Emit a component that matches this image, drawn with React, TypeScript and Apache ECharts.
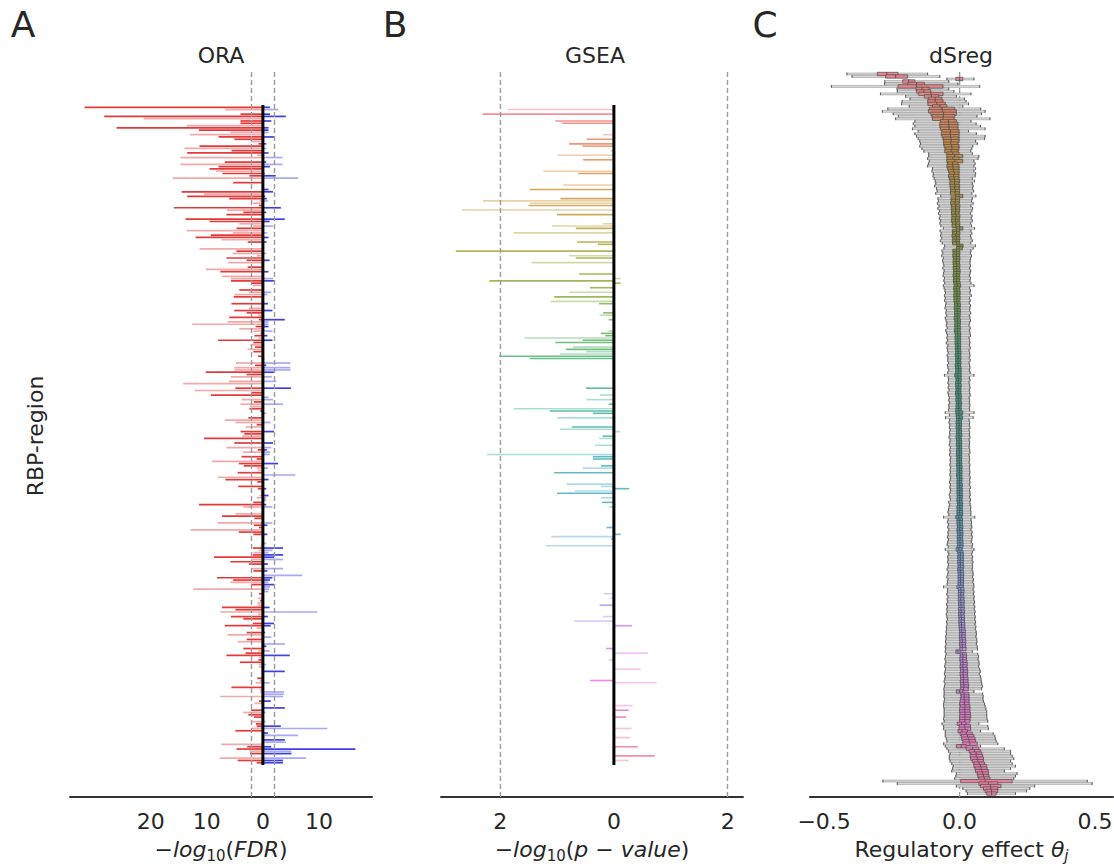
import React, { useEffect, useRef } from "react";
import * as echarts from "echarts";

const ROW_COUNT = 290;

// ORA records: [row, -log10(FDR) depleted (drawn left), -log10(FDR) enriched (drawn right), region group]
const oraRows: number[][] = [
  [1,31.8,1.25,0],[2,6.7,2.7,1],[4,4.0,1.25,0],[5,28.3,4.1,0],[6,21.3,0,1],[7,4.0,1.5,0],[8,4.0,0,0],[9,13.6,0,1],
  [10,26.1,1.0,0],[11,11.4,1.0,0],[12,5.8,1.0,1],[13,13.0,0,1],[14,7.9,2.0,0],[15,5.1,0,0],[16,2.2,0,1],[17,0.8,0.6,0],
  [18,11.3,0,0],[19,14.0,0.6,1],[20,5.6,0,0],[21,13.5,1.0,0],[22,1.0,0,1],[23,14.7,3.5,1],[25,6.8,0.6,0],[26,14.7,3.5,1],
  [27,7.9,1.25,0],[28,9.5,0,0],[29,8.4,0,1],[30,7.2,0.3,0],[31,2.4,2.3,0],[32,16.1,6.3,1],[34,5.3,0,0],[37,0,1.0,0],
  [38,14.5,1.8,0],[39,10.5,0,1],[40,13.5,0.4,0],[41,6.0,0.7,0],[42,0.6,0.9,1],[43,1.8,0,1],[44,0.7,0,0],[45,15.9,3.2,0],
  [46,6.4,0,1],[47,3.5,0.6,0],[48,6.5,0,0],[50,13.8,3.9,0],[51,9.5,1.2,0],[52,4.2,0,1],[53,1.8,1.8,1],[54,4.7,0,0],
  [55,13.6,0,1],[56,5.4,0.8,1],[57,9.3,0,0],[58,12.0,1.0,0],[59,7.4,0,1],[60,2.7,0.65,0],[63,11.3,0,1],[64,4.7,0,0],
  [65,5.4,0.6,1],[66,1.1,0,1],[67,6.5,0,0],[68,2.9,1.2,0],[69,6.25,0,1],[71,2.7,0,0],[72,10.2,0,1],[73,7.6,1.0,0],
  [74,0.2,0,0],[75,7.3,0,1],[76,5.7,1.8,1],[77,5.7,2.0,0],[78,2.0,0,0],[79,1.8,0,1],[81,4.2,0,0],[82,2.5,1.5,1],
  [83,5.1,0.8,1],[84,5.2,0,0],[86,0.4,0,1],[87,5.6,0.9,0],[88,0.4,0,1],[89,2.5,0,1],[90,5.1,1.7,0],[91,2.9,0,0],
  [92,0.8,0,1],[93,6.0,0,0],[94,0.7,3.9,0],[95,6.3,1.0,1],[96,12.6,1.0,1],[97,1.3,1.0,0],[98,4.2,0,1],[99,1.7,1.7,1],
  [100,0.4,0,0],[101,1.5,0.8,0],[102,0.8,0,1],[103,8.0,1.7,0],[104,1.7,0,0],[105,2.2,0,1],[106,1.4,0,0],[107,2.7,0,1],
  [108,1.7,0,0],[110,0.9,0,0],[111,0,0.3,1],[113,4.8,4.9,1],[114,1.4,0.6,0],[115,5.1,4.9,1],[116,5.1,4.9,1],[117,10.2,2.0,0],
  [118,2.9,0,0],[119,5.7,1.6,1],[121,6.1,2.4,1],[122,14.2,0,1],[124,4.9,5.0,0],[125,12.2,0,1],[126,2.1,0,0],[127,9.3,0,0],
  [128,0.2,1.0,1],[129,3.8,1.8,1],[130,1.6,0,0],[131,4.0,3.6,1],[132,2.3,0,1],[133,2.4,0,0],[134,0.5,0,0],[135,0,0.6,1],
  [137,2.6,0,0],[138,6.8,0,1],[139,4.9,1.4,1],[140,1.1,0,0],[141,3.1,0,1],[143,4.0,2.0,0],[144,3.3,0,0],[145,3.7,0,1],
  [146,10.5,0,0],[148,5.1,1.8,0],[150,6.5,1.5,1],[151,0.9,0.7,0],[152,3.6,1.25,1],[153,0,1.25,1],[154,3.8,0,0],[155,1.1,0,0],
  [156,9.1,0,1],[157,4.3,2.7,0],[158,3.4,0,0],[159,1.1,0.9,1],[160,0.9,0,1],[161,4.5,0,0],[162,0,5.8,1],[163,8.1,0,1],
  [164,6.7,1.0,0],[165,1.0,0,0],[167,4.4,0,0],[168,0.9,0.6,0],[169,0.4,0,1],[170,0.4,0,1],[171,0.4,1.0,0],[172,1.1,0.6,1],
  [173,0,0.6,1],[174,1.7,0,0],[175,11.4,0.6,0],[176,3.5,1.7,1],[179,4.9,0,1],[180,7.3,0,0],[181,1.5,0,0],[183,8.1,1.7,1],
  [184,1.6,0.8,0],[185,0.7,0,0],[186,12.9,0,1],[187,4.3,0,0],[188,1.7,0.8,0],[192,0,0.6,1],[193,0.4,0,1],[194,1.8,3.6,0],
  [195,0.7,1.7,1],[196,1.7,1.0,1],[197,1.8,3.6,0],[198,8.7,2.0,0],[199,2.1,3.6,1],[200,5.8,0,0],[201,2.5,0.9,0],[203,2.1,3.6,1],
  [204,1.7,0.8,0],[206,0,7.0,1],[207,8.2,1.7,0],[208,5.3,1.25,0],[209,5.8,1.0,1],[210,2.1,2.0,0],[211,0,1.25,1],[212,12.4,1.1,1],
  [213,0,1.0,1],[214,0.7,0,0],[216,0.9,0,1],[217,0.5,0,0],[218,1.0,0,1],[219,0.9,0,1],[220,7.3,1.2,0],[221,4.9,0,0],
  [222,7.6,9.7,1],[223,0.9,0,1],[224,5.7,0.9,0],[225,3.5,0,0],[227,1.8,2.0,0],[228,6.8,1.4,0],[229,1.1,0,1],[231,2.9,0.4,0],
  [232,6.3,0,1],[233,0.4,1.5,1],[234,2.9,0,0],[235,4.5,0,1],[236,0,3.9,1],[237,0.2,0.6,0],[238,3.5,0,0],[239,0.8,1.2,1],
  [240,3.1,0,0],[241,6.5,4.8,0],[242,0.7,0,1],[243,0.8,0,0],[244,4.1,0,0],[245,0.7,0.6,1],[246,0.7,0.3,1],[248,0.2,3.9,0],
  [251,1.0,0,0],[252,0.6,0,1],[253,1.3,1.2,1],[255,5.6,0,0],[256,0.6,0,1],[257,0.5,3.75,1],[258,0,3.75,1],[259,7.6,3.6,1],
  [261,0.7,1.4,0],[262,1.5,0,1],[264,0,3.9,0],[265,2.1,0,0],[266,3.5,0.5,1],[267,2.6,0,0],[268,1.6,0,0],[270,1.9,0.5,1],
  [271,1.25,0,0],[272,1.1,3.2,0],[273,2.1,11.5,1],[274,4.9,0,0],[275,0,0.9,0],[276,0,6.3,1],[277,0,0.3,1],[278,0,3.9,0],
  [279,0,4.1,1],[280,7.4,0,1],[281,2.8,1.5,0],[282,4.7,16.5,0],[283,2.4,5.1,1],[284,2.3,5.1,0],[286,7.7,7.7,1],[287,4.5,3.6,0],
  [288,1.1,3.6,0]
];

// GSEA records: [row, signed -log10(p-value), region group]
const gseaRows: number[][] = [
  [2,-1.87,1],[4,-2.31,0],[7,-1.03,0],[8,-0.91,0],[13,-0.19,1],[15,-0.48,0],[17,-0.79,0],[18,-0.55,0],[20,-0.06,1],
  [22,-0.99,1],[24,-0.54,0],[29,-1.24,1],[30,-0.63,0],[35,-0.89,1],[37,-1.48,0],[41,-0.94,0],[42,-2.3,1],[43,-1.48,1],
  [44,-1.5,0],[46,-2.67,1],[48,-1.0,0],[52,-0.19,1],[53,-1.09,1],[54,-0.67,0],[56,-1.76,1],[60,-0.65,0],[61,-0.28,0],
  [64,-2.78,0],[66,-0.79,1],[67,-0.67,0],[69,-1.45,1],[74,-0.61,0],[76,0.12,1],[77,-2.19,0],[78,0.12,0],[80,-0.42,0],
  [82,-0.78,1],[84,-1.05,0],[86,-1.11,1],[87,-0.26,0],[91,-0.19,0],[92,-0.25,1],[94,-0.09,0],[99,-0.1,1],[100,-0.23,0],
  [101,-0.15,0],[102,-1.57,1],[103,-0.55,0],[104,-1.03,0],[106,-0.72,1],[107,-0.84,0],[108,-0.49,1],[109,-0.95,1],
  [110,-2.02,0],[111,-1.48,0],[124,-0.49,0],[127,-0.25,1],[129,-0.48,1],[131,-0.09,0],[133,-1.76,1],[134,-1.13,0],
  [135,-0.37,0],[137,-1.0,1],[141,-0.74,0],[142,-0.95,1],[143,0.11,1],[145,-0.2,0],[146,-0.26,1],[149,-0.33,1],
  [153,-2.23,1],[154,-0.37,0],[155,-0.37,0],[158,-0.23,0],[159,-0.55,1],[161,-1.05,0],[166,-0.83,1],[167,-0.23,1],
  [168,0.27,0],[169,-0.69,1],[170,-1.0,0],[172,-0.23,1],[174,-0.21,0],[175,0.03,0],[176,-0.09,1],[185,-0.13,0],
  [188,0.12,0],[189,-1.1,1],[190,-0.05,0],[193,-1.2,1],[214,-0.18,1],[216,-0.06,1],[219,-0.25,0],[224,-0.19,1],
  [226,-0.7,1],[228,0.32,0],[238,-0.14,0],[240,0.6,1],[243,-0.09,1],[247,0.47,1],[252,-0.42,0],[253,0.75,1],
  [263,0.33,1],[265,0.26,0],[267,0.03,1],[268,0.22,0],[273,0.31,1],[277,0.29,1],[281,0.42,0],[285,0.72,0],[287,0.26,1]
];

// dSreg posterior summaries per row, in thousandths of the regulatory effect
const dsregMedian = [
  -269,-236,0,-188,-159,-159,-139,-132,-106,-104,
  -90,-90,-85,-73,-65,-64,-59,-60,-61,-41,
  -40,-40,-39,-34,-35,-34,-32,-31,-33,-29,
  -28,-31,-25,-18,-25,-18,-26,-25,-24,-22,
  -20,-22,-20,-18,-19,-17,-18,-16,-17,-2,
  -16,-15,-17,-14,-15,-14,-16,-13,-14,-15,
  -13,-14,0,-13,-12,-14,-12,-13,-12,1,
  -2,-12,-11,-12,-11,-12,-12,-11,-12,-10,
  -11,-12,-10,-11,-10,-9,-11,-10,-9,-10,
  -9,-10,-9,-8,-9,-8,-9,-8,-9,-8,
  -7,-8,-7,-8,-7,-6,-7,-6,-7,-6,
  -7,-6,-5,-6,-5,-6,-5,-6,-5,-4,
  -5,-7,-5,-4,-5,-4,-5,-4,-5,-4,
  -3,-4,-3,-4,-3,-4,-2,-3,-2,-3,
  -3,-2,-3,-2,-3,-2,-3,-2,-1,-2,
  -1,-2,-1,-2,-1,-2,-1,-1,0,-1,
  0,-1,0,0,-1,0,0,1,0,0,
  1,0,0,1,0,1,0,1,-4,1,
  0,1,1,0,1,2,1,2,1,2,
  1,-3,2,3,2,3,2,3,3,2,
  3,4,3,4,3,4,1,4,5,4,
  5,4,5,5,6,5,6,5,6,7,
  6,7,7,8,8,9,8,9,10,9,
  10,10,-6,11,12,11,12,13,12,13,
  14,13,14,15,14,15,16,15,0,16,
  17,17,19,18,20,19,19,20,20,19,
  19,7,19,20,9,25,29,32,35,38,
  6,47,55,61,61,65,67,72,77,79,
  82,85,88,91,94,106,114,115,118,118
];
const dsregQ1 = [
  -304,-273,-14,-210,-191,-227,-161,-159,-151,-130,
  -114,-118,-117,-100,-112,-115,-106,-102,-100,-71,
  -73,-73,-71,-65,-68,-65,-61,-59,-59,-57,
  -53,-55,-47,-47,-47,-47,-45,-47,-44,-41,
  -38,-41,-38,-35,-36,-35,-34,-33,-34,-14,
  -32,-31,-33,-30,-31,-29,-30,-28,-29,-30,
  -27,-28,-12,-27,-26,-28,-25,-27,-26,-10,
  -12,-25,-24,-25,-23,-24,-24,-23,-24,-22,
  -23,-24,-22,-23,-21,-20,-22,-21,-20,-22,
  -20,-21,-19,-19,-20,-18,-19,-18,-20,-18,
  -17,-18,-17,-19,-17,-16,-17,-16,-17,-15,
  -16,-15,-15,-16,-14,-15,-14,-16,-15,-14,
  -15,-18,-14,-13,-15,-14,-14,-13,-15,-14,
  -13,-14,-12,-13,-13,-14,-14,-13,-12,-12,
  -13,-12,-13,-11,-12,-12,-13,-11,-11,-12,
  -10,-11,-11,-12,-10,-11,-10,-11,-10,-10,
  -10,-11,-10,-9,-10,-9,-10,-9,-10,-9,
  -9,-10,-9,-8,-10,-9,-10,-9,-14,-9,
  -10,-9,-8,-10,-9,-8,-9,-8,-9,-7,
  -9,-13,-7,-6,-7,-6,-7,-6,-6,-7,
  -6,-5,-6,-5,-6,-5,-10,-5,-4,-5,
  -4,-5,-3,-4,-3,-4,-3,-4,-3,-2,
  -3,-2,-2,-1,0,0,-1,0,1,0,
  1,1,-14,2,2,1,2,3,2,3,
  3,2,3,4,3,4,4,3,-12,4,
  5,4,2,0,2,0,0,1,0,0,
  0,-9,-1,-2,-6,2,6,8,12,12,
  -12,24,35,41,39,41,47,53,53,57,
  59,65,67,71,4,71,77,88,94,100
];
const dsregQ3 = [
  -227,-192,12,-165,-130,-61,-112,-106,-61,-77,
  -65,-61,-53,-47,-18,-12,-12,-18,-21,-12,
  -6,-6,-6,-2,-2,-2,-2,-2,-6,-2,
  -2,-6,-2,12,-2,12,-6,-2,-2,-2,
  -2,-2,-2,0,-2,0,-1,0,-1,12,
  0,0,-2,1,0,0,-2,1,0,-1,
  1,0,12,0,1,-1,1,0,0,13,
  10,0,1,0,1,0,0,1,0,2,
  1,0,1,0,2,4,0,1,2,1,
  2,1,2,3,1,3,2,2,1,3,
  3,2,3,2,4,4,3,4,3,4,
  3,4,5,4,5,4,5,4,5,6,
  5,6,5,6,4,6,5,5,5,6,
  6,5,7,6,6,5,12,6,11,6,
  7,7,6,7,7,8,6,7,8,7,
  8,7,8,7,8,7,8,8,9,8,
  9,8,9,9,8,10,9,10,9,10,
  10,9,10,11,10,10,11,11,8,11,
  10,11,12,10,12,12,11,12,12,13,
  12,9,13,14,13,14,13,14,15,13,
  14,15,14,15,14,15,13,16,16,15,
  16,16,17,16,17,17,18,16,18,18,
  18,19,19,20,21,21,21,22,23,22,
  23,24,2,25,26,25,27,28,27,29,
  30,29,30,31,31,32,33,32,12,34,
  35,35,35,35,38,38,38,40,41,39,
  38,24,40,41,29,47,53,57,59,65,
  24,71,77,82,85,88,88,92,100,101,
  106,106,108,112,194,141,153,141,141,135
];
const dsregLow = [
  -416,-397,-47,-276,-277,-473,-231,-230,-292,-199,
  -183,-212,-214,-186,-265,-285,-245,-226,-236,-165,
  -171,-165,-174,-153,-165,-159,-153,-147,-144,-147,
  -139,-132,-114,-114,-118,-112,-115,-118,-100,-102,
  -97,-98,-94,-90,-88,-92,-85,-83,-88,-70,
  -80,-78,-82,-76,-80,-74,-78,-72,-75,-70,
  -73,-69,-60,-72,-68,-70,-66,-71,-64,-55,
  -58,-65,-62,-66,-60,-63,-60,-58,-62,-57,
  -59,-61,-56,-58,-55,-60,-57,-54,-52,-56,
  -53,-55,-50,-52,-54,-49,-51,-48,-53,-50,
  -47,-49,-46,-51,-48,-45,-47,-44,-49,-43,
  -46,-45,-42,-46,-43,-44,-41,-45,-43,-40,
  -44,-56,-42,-41,-43,-40,-42,-39,-43,-41,
  -38,-40,-37,-40,-39,-41,-53,-38,-52,-37,
  -39,-36,-38,-35,-37,-36,-39,-35,-36,-38,
  -34,-36,-35,-37,-33,-35,-34,-36,-33,-35,
  -34,-36,-33,-35,-37,-34,-36,-33,-35,-38,
  -36,-34,-40,-37,-39,-41,-43,-40,-59,-42,
  -45,-41,-44,-40,-43,-42,-45,-41,-44,-46,
  -42,-53,-43,-40,-44,-42,-45,-41,-43,-46,
  -42,-44,-47,-43,-45,-46,-59,-44,-45,-47,
  -43,-46,-44,-48,-45,-47,-46,-49,-47,-45,
  -48,-46,-49,-48,-50,-49,-51,-50,-52,-50,
  -53,-51,-53,-50,-52,-54,-51,-53,-55,-52,
  -54,-56,-53,-55,-57,-54,-56,-58,-57,-57,
  -58,-56,-57,-59,-59,-57,-57,-57,-57,-59,
  -57,-65,-59,-59,-53,-53,-53,-49,-47,-59,
  -53,-47,-41,-35,-38,-38,-35,-29,-24,-26,
  -29,-12,-14,-18,-283,-230,-12,12,24,29
];
const dsregHigh = [
  -118,-73,53,-40,-6,74,-40,-21,42,-12,
  18,24,33,12,78,94,81,64,112,42,
  61,77,94,33,62,94,92,59,65,49,
  45,41,47,71,68,53,57,53,59,53,
  59,57,47,55,47,50,48,52,45,60,
  47,44,50,42,48,45,40,46,43,47,
  41,44,55,42,45,40,43,47,41,58,
  50,42,40,44,41,39,38,40,37,41,
  39,36,40,38,42,53,37,40,38,43,
  37,39,36,40,38,37,41,36,38,40,
  37,35,39,36,38,40,35,37,38,36,
  39,35,37,38,36,39,35,37,38,36,
  39,53,36,38,35,37,38,36,37,39,
  35,37,36,38,36,37,53,36,50,35,
  37,36,38,35,37,36,38,35,37,36,
  35,37,38,35,36,37,35,38,36,37,
  38,36,39,37,38,36,40,37,38,39,
  37,40,38,39,41,40,42,41,56,42,
  44,43,45,42,46,44,47,45,43,48,
  46,53,47,45,48,46,49,47,48,46,
  49,50,48,51,49,52,53,50,53,51,
  54,52,55,53,56,54,57,55,58,56,
  59,57,60,58,61,62,60,63,64,62,
  65,66,47,67,70,68,71,72,70,74,
  76,73,77,79,80,82,84,81,53,85,
  87,86,88,92,94,97,100,100,100,101,
  104,71,104,106,77,124,130,132,135,141,
  77,165,188,188,194,200,188,194,206,188,
  165,212,206,200,471,489,277,259,247,206
];

const oraTicks = [-20, -10, 0, 10];
const gseaTicks = [-2, 0, 2];
const dsregTicks = [-0.5, 0, 0.5];
const oraThreshold = 2;
const gseaThreshold = 2;

const FONT = "DejaVu Sans";
const TEXT = "#262626";
const HUSL = ["#f77189", "#dc8932", "#ae9d31", "#77ab31", "#33b07a", "#36ada4", "#38a9c5", "#6e9bf4", "#cc7af4", "#f565cc", "#f77189"];

function hexRgb(h: string) {
  const n = parseInt(h.slice(1), 16);
  return [(n >> 16) & 255, (n >> 8) & 255, n & 255];
}
function rowRgb(row: number, sat = 1) {
  const t = (row / ROW_COUNT) * (HUSL.length - 1);
  const k = Math.min(HUSL.length - 2, Math.floor(t));
  const f = t - k;
  const a = hexRgb(HUSL[k]);
  const b = hexRgb(HUSL[k + 1]);
  let c = a.map((v, j) => v + (b[j] - v) * f);
  if (sat !== 1) {
    const mid = (Math.max(...c) + Math.min(...c)) / 2;
    c = c.map((v) => mid + (v - mid) * sat);
  }
  return c.map((v) => Math.round(v));
}
const rgba = (c: number[], a: number) => `rgba(${c[0]},${c[1]},${c[2]},${a})`;

const AB_Y = { min: -14.45, max: 303 };
const C_Y = { min: -0.8, max: 290.4 };

const richName = {
  n: { fontSize: 22, fontFamily: FONT, color: TEXT },
  i: { fontSize: 22, fontFamily: FONT, color: TEXT, fontStyle: "italic" },
  s: { fontSize: 15, fontFamily: FONT, color: TEXT, padding: [12, 0, 0, 0] },
  si: { fontSize: 15, fontFamily: FONT, color: TEXT, fontStyle: "italic", padding: [12, 0, 0, 0] },
};

function makeXAxis(gridIndex: number, min: number, max: number, ticks: number[], fmt: (v: number) => string, name: string) {
  return {
    type: "value",
    gridIndex,
    min,
    max,
    axisLine: { show: true, onZero: false, lineStyle: { color: "#333", width: 2 } },
    axisTick: { show: false },
    splitLine: { show: false },
    axisLabel: { customValues: ticks, formatter: fmt, color: TEXT, fontSize: 22, fontFamily: FONT, margin: 13 },
    name,
    nameLocation: "middle",
    nameGap: 39,
    nameTextStyle: { rich: richName, fontSize: 22, fontFamily: FONT, color: TEXT },
  };
}
function makeYAxis(gridIndex: number, r: { min: number; max: number }) {
  return { type: "value", gridIndex, inverse: true, min: r.min, max: r.max, show: false, splitLine: { show: false } };
}

function buildOption() {
  const absFmt = (v: number) => String(Math.abs(v));
  const cFmt = (v: number) => (v < 0 ? "\u2212" : "") + Math.abs(v).toFixed(1);
  const dsregData = dsregMedian.map((m, i) => [i, m / 1000, dsregQ1[i] / 1000, dsregQ3[i] / 1000, dsregLow[i] / 1000, dsregHigh[i] / 1000]);
  const zeroSpan = [[0, 0], [0, ROW_COUNT - 1]];
  const dash = { color: "#9a9a9a", width: 1.4, type: [5, 3] };

  return {
    animation: false,
    backgroundColor: "#ffffff",
    grid: [
      { left: 70, top: 72, width: 302, height: 725, outerBoundsMode: "none" },
      { left: 441, top: 72, width: 302, height: 725, outerBoundsMode: "none" },
      { left: 810, top: 72, width: 303, height: 725, outerBoundsMode: "none" },
    ],
    xAxis: [
      makeXAxis(0, -34.4, 19.46, oraTicks, absFmt, "{n|\u2212}{i|log}{s|10}{n|(}{i|FDR}{n|)}"),
      makeXAxis(1, -3.04, 2.27, gseaTicks, absFmt, "{n|\u2212}{i|log}{s|10}{n|(}{i|p}{n| \u2212 }{i|value}{n|)}"),
      makeXAxis(2, -0.552, 0.566, dsregTicks, cFmt, "{n|Regulatory effect }{i|\u03b8}{si|j}"),
    ],
    yAxis: [makeYAxis(0, AB_Y), makeYAxis(1, AB_Y), makeYAxis(2, C_Y)],
    graphic: [
      { type: "text", x: 23, y: 24, style: { text: "A", fontSize: 36, fontFamily: FONT, fill: TEXT, textAlign: "center", textVerticalAlign: "middle" } },
      { type: "text", x: 395, y: 24, style: { text: "B", fontSize: 36, fontFamily: FONT, fill: TEXT, textAlign: "center", textVerticalAlign: "middle" } },
      { type: "text", x: 765, y: 24, style: { text: "C", fontSize: 36, fontFamily: FONT, fill: TEXT, textAlign: "center", textVerticalAlign: "middle" } },
      { type: "text", x: 221, y: 55, style: { text: "ORA", fontSize: 22, fontFamily: FONT, fill: TEXT, textAlign: "center", textVerticalAlign: "middle" } },
      { type: "text", x: 595, y: 55, style: { text: "GSEA", fontSize: 22, fontFamily: FONT, fill: TEXT, textAlign: "center", textVerticalAlign: "middle" } },
      { type: "text", x: 961, y: 55, style: { text: "dSreg", fontSize: 22, fontFamily: FONT, fill: TEXT, textAlign: "center", textVerticalAlign: "middle" } },
      { type: "text", x: 35, y: 436, rotation: Math.PI / 2, style: { text: "RBP-region", fontSize: 22, fontFamily: FONT, fill: TEXT, textAlign: "center", textVerticalAlign: "middle" } },
    ],
    series: [
      {
        type: "custom",
        xAxisIndex: 0,
        yAxisIndex: 0,
        silent: true,
        data: oraRows,
        dimensions: ["row", "down", "up", "group"],
        encode: { y: "row", x: "down" },
        renderItem: (_p: any, api: any) => {
          const row = api.value(0);
          const down = api.value(1);
          const up = api.value(2);
          const light = api.value(3) === 1;
          const o = api.coord([0, row]);
          const children: any[] = [];
          if (down > 0) {
            const p = api.coord([-down, row]);
            children.push({ type: "line", shape: { x1: o[0], y1: o[1], x2: p[0], y2: p[1] }, style: { stroke: light ? "rgba(232,62,62,0.45)" : "rgba(226,36,36,0.9)", lineWidth: 1.7 } });
          }
          if (up > 0) {
            const p = api.coord([up, row]);
            children.push({ type: "line", shape: { x1: o[0], y1: o[1], x2: p[0], y2: p[1] }, style: { stroke: light ? "rgba(62,62,232,0.45)" : "rgba(36,36,226,0.88)", lineWidth: 1.7 } });
          }
          return { type: "group", children };
        },
      },
      {
        type: "line",
        xAxisIndex: 0,
        yAxisIndex: 0,
        silent: true,
        symbol: "none",
        data: zeroSpan,
        lineStyle: { color: "#000", width: 3 },
        z: 3,
        markLine: { silent: true, symbol: ["none", "none"], label: { show: false }, lineStyle: dash, data: [{ xAxis: -oraThreshold }, { xAxis: oraThreshold }] },
      },
      {
        type: "custom",
        xAxisIndex: 1,
        yAxisIndex: 1,
        silent: true,
        data: gseaRows,
        dimensions: ["row", "value", "group"],
        encode: { y: "row", x: "value" },
        renderItem: (_p: any, api: any) => {
          const row = api.value(0);
          const v = api.value(1);
          const light = api.value(2) === 1;
          const o = api.coord([0, row]);
          const p = api.coord([v, row]);
          return { type: "line", shape: { x1: o[0], y1: o[1], x2: p[0], y2: p[1] }, style: { stroke: rgba(rowRgb(row), light ? 0.42 : 0.8), lineWidth: 1.6 } };
        },
      },
      {
        type: "line",
        xAxisIndex: 1,
        yAxisIndex: 1,
        silent: true,
        symbol: "none",
        data: zeroSpan,
        lineStyle: { color: "#000", width: 3 },
        z: 3,
        markLine: { silent: true, symbol: ["none", "none"], label: { show: false }, lineStyle: dash, data: [{ xAxis: -gseaThreshold }, { xAxis: gseaThreshold }] },
      },
      {
        type: "line",
        xAxisIndex: 2,
        yAxisIndex: 2,
        silent: true,
        symbol: "none",
        data: [[0, C_Y.min], [0, C_Y.max]],
        lineStyle: dash,
        z: 1,
      },
      {
        type: "custom",
        xAxisIndex: 2,
        yAxisIndex: 2,
        silent: true,
        data: dsregData,
        dimensions: ["row", "med", "q1", "q3", "lo", "hi"],
        encode: { y: "row", x: "med" },
        z: 2,
        renderItem: (_p: any, api: any) => {
          const row = api.value(0);
          const lo = api.coord([api.value(4), row]);
          const hi = api.coord([api.value(5), row]);
          const y = lo[1];
          return {
            type: "group",
            children: [
              { type: "rect", shape: { x: lo[0], y: y - 1, width: hi[0] - lo[0], height: 2 }, style: { fill: "#dadada", stroke: "#747474", lineWidth: 0.4 } },
              { type: "line", shape: { x1: lo[0], y1: y - 1.4, x2: lo[0], y2: y + 1.4 }, style: { stroke: "#555", lineWidth: 0.9 } },
              { type: "line", shape: { x1: hi[0], y1: y - 1.4, x2: hi[0], y2: y + 1.4 }, style: { stroke: "#555", lineWidth: 0.9 } },
            ],
          };
        },
      },
      {
        type: "custom",
        xAxisIndex: 2,
        yAxisIndex: 2,
        silent: true,
        data: dsregData,
        dimensions: ["row", "med", "q1", "q3", "lo", "hi"],
        encode: { y: "row", x: "med" },
        z: 4,
        renderItem: (_p: any, api: any) => {
          const row = api.value(0);
          const m = api.coord([api.value(1), row]);
          const q1 = api.coord([api.value(2), row]);
          const q3 = api.coord([api.value(3), row]);
          const y = m[1];
          return {
            type: "group",
            children: [
              { type: "rect", shape: { x: q1[0], y: y - 1.7, width: Math.max(1, q3[0] - q1[0]), height: 3.4 }, style: { fill: rgba(rowRgb(row, 0.75), 1), stroke: "#4a4a4a", lineWidth: 0.7 } },
              { type: "line", shape: { x1: m[0], y1: y - 1.7, x2: m[0], y2: y + 1.7 }, style: { stroke: "#4a4a4a", lineWidth: 0.8 } },
            ],
          };
        },
      },
    ],
  };
}

export default function App() {
  const ref = useRef<HTMLDivElement>(null);
  useEffect(() => {
    if (!ref.current) return;
    const chart = echarts.init(ref.current, null, { renderer: "svg" });
    chart.setOption(buildOption() as any);
    return () => chart.dispose();
  }, []);
  return <div ref={ref} style={{ position: "fixed", left: 0, top: 0, width: 1114, height: 866, background: "#fff" }} />;
}
